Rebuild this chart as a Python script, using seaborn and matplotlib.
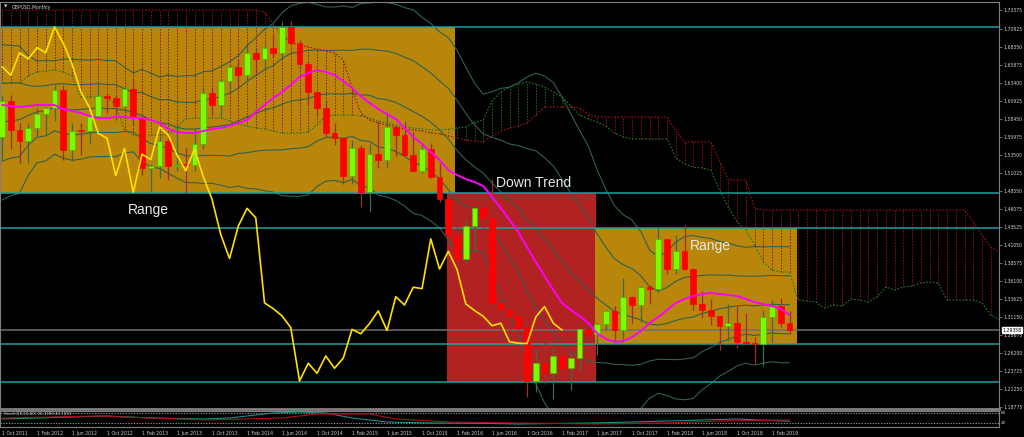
import matplotlib
matplotlib.use("Agg")
import matplotlib.pyplot as plt
from matplotlib import font_manager
import seaborn as sns
import numpy as np

# ---- monthly GBPUSD bars, Oct 2011 .. Apr 2019 ----
opens = [1.5585, 1.6085, 1.5690, 1.5540, 1.5720, 1.5910, 1.5995, 1.6235, 1.5410, 1.5680,
         1.5675, 1.5880, 1.6150, 1.6130, 1.6020, 1.6255, 1.5860, 1.5170, 1.5195, 1.5530,
         1.5190, 1.5210, 1.5205, 1.5500, 1.6190, 1.6030, 1.6360, 1.6560, 1.6440, 1.6750,
         1.6665, 1.6820, 1.6750, 1.7105, 1.6880, 1.6595, 1.6215, 1.5995, 1.5640, 1.5575,
         1.5060, 1.5435, 1.4830, 1.5355, 1.5280, 1.5730, 1.5615, 1.5345, 1.5125, 1.5425,
         1.5045, 1.4735, 1.4250, 1.3920, 1.4365, 1.4610, 1.4480, 1.3310, 1.3230, 1.3130,
         1.2970, 1.2235, 1.2480, 1.2340, 1.2580, 1.2410, 1.2550, 1.2945, 1.2885, 1.3025,
         1.3200, 1.2930, 1.3395, 1.3280, 1.3525, 1.3505, 1.4190, 1.3775, 1.4020, 1.3770,
         1.3295, 1.3205, 1.3125, 1.2995, 1.3030, 1.2775, 1.2755, 1.2750, 1.3115, 1.3260,
         1.3030]
highs = [1.6165, 1.6165, 1.5780, 1.5790, 1.5990, 1.6000, 1.6300, 1.6300, 1.5780, 1.5780,
         1.5900, 1.6310, 1.6200, 1.6170, 1.6310, 1.6380, 1.5875, 1.5225, 1.5600, 1.5605,
         1.5750, 1.5440, 1.5720, 1.6260, 1.6260, 1.6385, 1.6600, 1.6670, 1.6825, 1.6820,
         1.6850, 1.6995, 1.7180, 1.7190, 1.6920, 1.6640, 1.6225, 1.6080, 1.5785, 1.5590,
         1.5550, 1.5485, 1.5495, 1.5815, 1.5930, 1.5735, 1.5815, 1.5660, 1.5505, 1.5505,
         1.5240, 1.4820, 1.4665, 1.4460, 1.4640, 1.4770, 1.5020, 1.3480, 1.3375, 1.3445,
         1.3060, 1.2675, 1.2775, 1.2705, 1.2705, 1.2615, 1.2965, 1.3045, 1.3030, 1.3215,
         1.3265, 1.3655, 1.3400, 1.3545, 1.3550, 1.4345, 1.4195, 1.4245, 1.4375, 1.3785,
         1.3475, 1.3365, 1.3130, 1.3300, 1.3260, 1.3175, 1.2840, 1.3215, 1.3350, 1.3380,
         1.3195]
lows = [1.5270, 1.5420, 1.5235, 1.5235, 1.5600, 1.5600, 1.5810, 1.5270, 1.5260, 1.5350,
        1.5490, 1.5860, 1.5915, 1.5830, 1.6000, 1.5750, 1.5065, 1.4830, 1.5025, 1.5005,
        1.5130, 1.4815, 1.5130, 1.5425, 1.5895, 1.5855, 1.6240, 1.6250, 1.6335, 1.6460,
        1.6540, 1.6690, 1.6690, 1.6860, 1.6530, 1.6050, 1.5875, 1.5590, 1.5485, 1.4950,
        1.4950, 1.4635, 1.4565, 1.5170, 1.5170, 1.5330, 1.5330, 1.5105, 1.5100, 1.5025,
        1.4700, 1.4080, 1.3835, 1.3840, 1.4005, 1.4330, 1.3230, 1.2800, 1.2865, 1.2915,
        1.2010, 1.2080, 1.2200, 1.1985, 1.2345, 1.2110, 1.2365, 1.2770, 1.2590, 1.2935,
        1.2775, 1.2775, 1.3030, 1.3040, 1.3300, 1.3460, 1.3710, 1.3710, 1.3760, 1.3205,
        1.3100, 1.3010, 1.2660, 1.2785, 1.2695, 1.2725, 1.2475, 1.2435, 1.2775, 1.2975,
        1.2880]
closes = [1.6085, 1.5690, 1.5540, 1.5720, 1.5910, 1.5995, 1.6235, 1.5410, 1.5680, 1.5675,
          1.5880, 1.6150, 1.6130, 1.6020, 1.6255, 1.5860, 1.5170, 1.5195, 1.5530, 1.5190,
          1.5210, 1.5205, 1.5500, 1.6190, 1.6030, 1.6360, 1.6560, 1.6440, 1.6750, 1.6665,
          1.6820, 1.6750, 1.7105, 1.6880, 1.6595, 1.6215, 1.5995, 1.5640, 1.5575, 1.5060,
          1.5435, 1.4830, 1.5355, 1.5280, 1.5730, 1.5615, 1.5345, 1.5125, 1.5425, 1.5045,
          1.4735, 1.4250, 1.3920, 1.4365, 1.4610, 1.4480, 1.3310, 1.3230, 1.3130, 1.2970,
          1.2235, 1.2480, 1.2340, 1.2580, 1.2410, 1.2550, 1.2945, 1.2885, 1.3025, 1.3200,
          1.2930, 1.3395, 1.3280, 1.3525, 1.3505, 1.4190, 1.3775, 1.4020, 1.3770, 1.3295,
          1.3205, 1.3125, 1.2995, 1.3030, 1.2775, 1.2755, 1.2750, 1.3115, 1.3260, 1.3030,
          1.2936]

# magenta moving average, one value per bar
ma_line = [1.6031, 1.6017, 1.6004, 1.6017, 1.6031, 1.6031, 1.6031, 1.5976, 1.5949, 1.5921,
           1.5880, 1.5852, 1.5852, 1.5866, 1.5866, 1.5852, 1.5852, 1.5825, 1.5784, 1.5701,
           1.5660, 1.5646, 1.5646, 1.5674, 1.5701, 1.5715, 1.5742, 1.5784, 1.5825, 1.5935,
           1.6031, 1.6127, 1.6210, 1.6306, 1.6416, 1.6471, 1.6512, 1.6485, 1.6444, 1.6361,
           1.6265, 1.6155, 1.6059, 1.5976, 1.5907, 1.5839, 1.5715, 1.5591, 1.5495, 1.5385,
           1.5275, 1.5137, 1.5068, 1.5013, 1.4972, 1.4917, 1.4766, 1.4614, 1.4450, 1.4284,
           1.4078, 1.3872, 1.3679, 1.3487, 1.3308, 1.3212, 1.3129, 1.3033, 1.2895, 1.2813,
           1.2772, 1.2785, 1.2840, 1.2923, 1.3033, 1.3115, 1.3212, 1.3308, 1.3363, 1.3404,
           1.3432, 1.3445, 1.3432, 1.3418, 1.3404, 1.3363, 1.3322, 1.3294, 1.3267, 1.3226,
           1.3143]

# dark-green band lines (upper 2, upper 1, middle, lower 1, lower 2), one value per bar
bb_up2 = [1.6860, 1.6851, 1.6843, 1.6711, 1.6637, 1.6643, 1.6639, 1.6664, 1.6659, 1.6654,
          1.6649, 1.6657, 1.6643, 1.6642, 1.6548, 1.6474, 1.6520, 1.6470, 1.6416, 1.6444,
          1.6424, 1.6434, 1.6434, 1.6489, 1.6501, 1.6561, 1.6625, 1.6709, 1.6848, 1.6954,
          1.7073, 1.7153, 1.7300, 1.7395, 1.7428, 1.7444, 1.7413, 1.7381, 1.7378, 1.7395,
          1.7373, 1.7426, 1.7435, 1.7447, 1.7442, 1.7415, 1.7371, 1.7341, 1.7239, 1.7152,
          1.7038, 1.6959, 1.6785, 1.6553, 1.6332, 1.6179, 1.6214, 1.6260, 1.6275, 1.6337,
          1.6416, 1.6469, 1.6430, 1.6339, 1.6141, 1.5909, 1.5681, 1.5468, 1.5144, 1.4875,
          1.4645, 1.4522, 1.4446, 1.4292, 1.4037, 1.3944, 1.4017, 1.4145, 1.4221, 1.4237,
          1.4211, 1.4195, 1.4154, 1.4132, 1.4094, 1.4074, 1.4085, 1.4080, 1.4084, 1.4082,
          1.4082]
bb_up1 = [1.6326, 1.6334, 1.6336, 1.6300, 1.6287, 1.6298, 1.6318, 1.6323, 1.6312, 1.6312,
          1.6316, 1.6323, 1.6313, 1.6312, 1.6254, 1.6202, 1.6203, 1.6147, 1.6102, 1.6106,
          1.6074, 1.6067, 1.6066, 1.6105, 1.6114, 1.6153, 1.6193, 1.6261, 1.6357, 1.6435,
          1.6518, 1.6573, 1.6671, 1.6740, 1.6765, 1.6782, 1.6787, 1.6782, 1.6782, 1.6787,
          1.6782, 1.6799, 1.6800, 1.6783, 1.6773, 1.6741, 1.6689, 1.6641, 1.6557, 1.6473,
          1.6364, 1.6262, 1.6095, 1.5916, 1.5756, 1.5636, 1.5586, 1.5549, 1.5495, 1.5474,
          1.5433, 1.5401, 1.5306, 1.5193, 1.5011, 1.4818, 1.4644, 1.4481, 1.4259, 1.4078,
          1.3918, 1.3835, 1.3781, 1.3683, 1.3528, 1.3474, 1.3522, 1.3606, 1.3660, 1.3676,
          1.3687, 1.3695, 1.3691, 1.3691, 1.3681, 1.3676, 1.3677, 1.3680, 1.3688, 1.3683,
          1.3683]
bb_mid = [1.5792, 1.5817, 1.5829, 1.5889, 1.5937, 1.5953, 1.5997, 1.5982, 1.5965, 1.5970,
          1.5983, 1.5989, 1.5983, 1.5982, 1.5960, 1.5930, 1.5886, 1.5824, 1.5788, 1.5768,
          1.5724, 1.5700, 1.5698, 1.5721, 1.5727, 1.5745, 1.5761, 1.5813, 1.5866, 1.5916,
          1.5963, 1.5993, 1.6042, 1.6085, 1.6102, 1.6120, 1.6161, 1.6183, 1.6186, 1.6179,
          1.6191, 1.6172, 1.6165, 1.6119, 1.6104, 1.6067, 1.6007, 1.5941, 1.5875, 1.5794,
          1.5690, 1.5565, 1.5405, 1.5279, 1.5180, 1.5093, 1.4958, 1.4838, 1.4715, 1.4611,
          1.4450, 1.4333, 1.4182, 1.4047, 1.3881, 1.3727, 1.3607, 1.3494, 1.3374, 1.3281,
          1.3191, 1.3148, 1.3116, 1.3074, 1.3019, 1.3004, 1.3027, 1.3067, 1.3099, 1.3115,
          1.3163, 1.3195, 1.3228, 1.3250, 1.3268, 1.3278, 1.3269, 1.3280, 1.3292, 1.3284,
          1.3284]
bb_lo1 = [1.5258, 1.5300, 1.5322, 1.5478, 1.5587, 1.5608, 1.5676, 1.5641, 1.5618, 1.5628,
          1.5650, 1.5655, 1.5653, 1.5652, 1.5666, 1.5658, 1.5569, 1.5501, 1.5474, 1.5430,
          1.5374, 1.5333, 1.5330, 1.5337, 1.5340, 1.5337, 1.5329, 1.5365, 1.5375, 1.5397,
          1.5408, 1.5413, 1.5413, 1.5430, 1.5439, 1.5458, 1.5535, 1.5584, 1.5590, 1.5571,
          1.5600, 1.5545, 1.5530, 1.5455, 1.5435, 1.5393, 1.5325, 1.5241, 1.5193, 1.5115,
          1.5016, 1.4868, 1.4715, 1.4642, 1.4604, 1.4550, 1.4330, 1.4127, 1.3935, 1.3748,
          1.3467, 1.3265, 1.3058, 1.2901, 1.2751, 1.2636, 1.2570, 1.2507, 1.2489, 1.2484,
          1.2464, 1.2461, 1.2451, 1.2465, 1.2510, 1.2534, 1.2532, 1.2528, 1.2538, 1.2554,
          1.2639, 1.2695, 1.2765, 1.2809, 1.2855, 1.2880, 1.2861, 1.2880, 1.2896, 1.2885,
          1.2885]
bb_lo2 = [1.4724, 1.4783, 1.4815, 1.5067, 1.5237, 1.5263, 1.5355, 1.5300, 1.5271, 1.5286,
          1.5317, 1.5321, 1.5323, 1.5322, 1.5372, 1.5386, 1.5252, 1.5178, 1.5160, 1.5092,
          1.5024, 1.4966, 1.4962, 1.4953, 1.4953, 1.4929, 1.4897, 1.4917, 1.4884, 1.4878,
          1.4853, 1.4833, 1.4784, 1.4775, 1.4776, 1.4796, 1.4909, 1.4985, 1.4994, 1.4963,
          1.5009, 1.4918, 1.4895, 1.4791, 1.4766, 1.4719, 1.4643, 1.4541, 1.4511, 1.4436,
          1.4342, 1.4171, 1.4025, 1.4005, 1.4028, 1.4007, 1.3702, 1.3416, 1.3155, 1.2885,
          1.2484, 1.2197, 1.1934, 1.1755, 1.1621, 1.1545, 1.1533, 1.1520, 1.1604, 1.1687,
          1.1737, 1.1774, 1.1786, 1.1856, 1.2001, 1.2064, 1.2037, 1.1989, 1.1977, 1.1993,
          1.2115, 1.2195, 1.2302, 1.2368, 1.2442, 1.2482, 1.2453, 1.2480, 1.2500, 1.2486,
          1.2486]

# ichimoku cloud edges (already shifted 26 bars forward), bars 0..116
span_a = [1.6334, 1.6334, 1.6334, 1.6430, 1.6485, 1.6499, 1.6512, 1.6485, 1.6430, 1.6141,
          1.6141, 1.6141, 1.6141, 1.6031, 1.5687, 1.5619, 1.5619, 1.5619, 1.5619, 1.5619,
          1.5729, 1.5839, 1.5852, 1.5852, 1.5852, 1.5852, 1.5811, 1.5770, 1.5742, 1.5715,
          1.5701, 1.5674, 1.5646, 1.5646, 1.5646, 1.5660, 1.5756, 1.5880, 1.5894, 1.5894,
          1.5894, 1.5880, 1.5852, 1.5811, 1.5784, 1.5756, 1.5729, 1.5715, 1.5701, 1.5687,
          1.5687, 1.5701, 1.5715, 1.5729, 1.5797, 1.5825, 1.6086, 1.6210, 1.6279, 1.6320,
          1.6347, 1.6320, 1.6279, 1.6210, 1.6141, 1.6017, 1.5894, 1.5839, 1.5797, 1.5742,
          1.5646, 1.5591, 1.5564, 1.5564, 1.5564, 1.5564, 1.5564, 1.5302, 1.5220, 1.5178,
          1.5165, 1.5137, 1.4862, 1.4628, 1.4422, 1.4312, 1.4106, 1.3872, 1.3762, 1.3734,
          1.3734, 1.3349, 1.3336, 1.3322, 1.3239, 1.3281, 1.3267, 1.3363, 1.3349, 1.3322,
          1.3390, 1.3528, 1.3487, 1.3528, 1.3542, 1.3583, 1.3597, 1.3583, 1.3349, 1.3349,
          1.3349, 1.3349, 1.3308, 1.3143, 1.3074, 1.3047, 1.3019]
span_b = [1.7338, 1.7338, 1.7338, 1.7338, 1.7338, 1.7338, 1.7338, 1.7338, 1.7338, 1.7338,
          1.7338, 1.7338, 1.7338, 1.7338, 1.7338, 1.7338, 1.7338, 1.7338, 1.7338, 1.7338,
          1.7338, 1.7338, 1.7338, 1.7338, 1.7338, 1.7338, 1.7338, 1.7338, 1.7338, 1.7338,
          1.7310, 1.7145, 1.6994, 1.6884, 1.6856, 1.6829, 1.6801, 1.6774, 1.6746, 1.6650,
          1.6265, 1.5921, 1.5825, 1.5784, 1.5756, 1.5729, 1.5701, 1.5687, 1.5674, 1.5646,
          1.5633, 1.5605, 1.5578, 1.5550, 1.5536, 1.5523, 1.5605, 1.5674, 1.5715, 1.5742,
          1.5784, 1.5894, 1.6004, 1.6004, 1.6004, 1.6004, 1.5990, 1.5907, 1.5866, 1.5866,
          1.5866, 1.5866, 1.5866, 1.5866, 1.5866, 1.5866, 1.5866, 1.5674, 1.5523, 1.5523,
          1.5523, 1.5523, 1.5261, 1.5000, 1.5000, 1.5000, 1.4614, 1.4587, 1.4587, 1.4587,
          1.4587, 1.4587, 1.4587, 1.4587, 1.4587, 1.4587, 1.4587, 1.4587, 1.4587, 1.4587,
          1.4587, 1.4587, 1.4587, 1.4587, 1.4587, 1.4587, 1.4587, 1.4587, 1.4587, 1.4587,
          1.4587, 1.4422, 1.4243, 1.4078, 1.4009, 1.3968, 1.3927]

# stochastic sub-window, sampled (bar, value)
stoch_bars = [0, 12, 17, 23, 26, 31, 34, 37, 40, 44, 49, 53, 59, 67, 72, 76, 84, 90]
stoch_main = [44, 62, 50, 44, 50, 80, 86, 80, 50, 26, 20, 20, 14, 20, 26, 32, 44, 30]
signal_bars = [0, 11, 23, 32, 36, 42, 45, 51, 59, 68, 76, 82, 90]
stoch_signal = [50, 62, 38, 50, 74, 74, 44, 26, 20, 14, 20, 32, 38]

# drawn objects
h_levels = [1.7104, 1.4821, 1.4339, 1.2744, 1.2221]
bid_price = 1.29358
# (first bar, last bar, low, high, colour)
boxes = [(-0.3, 51.77, 1.4821, 1.7104, "#B8860B"),
         (50.86, 67.89, 1.2221, 1.4821, "#B22222"),
         (67.77, 90.86, 1.2744, 1.4339, "#B8860B")]
labels = [("Range", 16.7, 1.4587), ("Down Trend", 60.7, 1.4958), ("Range", 80.9, 1.4092)]

price_ticks = ["1.73375", "1.70825", "1.68350", "1.65875", "1.63400", "1.60925", "1.58450",
               "1.55975", "1.53500", "1.51025", "1.48550", "1.46075", "1.43525", "1.41050",
               "1.38575", "1.36100", "1.33625", "1.31150", "1.28675", "1.26200", "1.23725",
               "1.21250", "1.18775"]
date_ticks = ["1 Oct 2011", "1 Feb 2012", "1 Jun 2012", "1 Oct 2012", "1 Feb 2013",
              "1 Jun 2013", "1 Oct 2013", "1 Feb 2014", "1 Jun 2014", "1 Oct 2014",
              "1 Feb 2015", "1 Jun 2015", "1 Oct 2015", "1 Feb 2016", "1 Jun 2016",
              "1 Oct 2016", "1 Feb 2017", "1 Jun 2017", "1 Oct 2017", "1 Feb 2018",
              "1 Jun 2018", "1 Oct 2018", "1 Feb 2019"]

sns.set_theme(style="dark")
plt.rcParams['font.family'] = ['DejaVu Sans']

# small axis text: narrow face if present, else a smaller DejaVu
try:
    font_manager.findfont("Liberation Sans Narrow", fallback_to_default=False)
    SMALL, SMALL_SIZE = "Liberation Sans Narrow", 4.0
except Exception:
    SMALL, SMALL_SIZE = "DejaVu Sans", 3.3
try:
    font_manager.findfont("Liberation Sans", fallback_to_default=False)
    BIG = "Liberation Sans"
except Exception:
    BIG = "DejaVu Sans"

GRID = "#808080"
TXT = "#D0D0D0"
BAND = "#2F6150"

fig = plt.figure(figsize=(10.24, 4.37), dpi=100, facecolor="black")
ax = fig.add_axes([0, 1 - 409 / 437, 999 / 1024, 407 / 437])
sub = fig.add_axes([0, 1 - 427 / 437, 999 / 1024, 16 / 437], sharex=ax)
for a in (ax, sub):
    a.set_facecolor("black")
    a.grid(False)
    for s in a.spines.values():
        s.set_color(GRID)
        s.set_linewidth(0.8)
ax.spines["bottom"].set_linewidth(2)

bars = np.arange(len(closes))
ext = np.arange(len(span_a))

# background rectangles
for x0, x1, lo, hi, col in boxes:
    ax.add_patch(plt.Rectangle((x0, lo), x1 - x0, hi - lo, color=col, zorder=0, lw=0))

# bands
for band in (bb_up2, bb_up1, bb_mid, bb_lo1, bb_lo2):
    sns.lineplot(x=bars, y=band, ax=ax, color=BAND, linewidth=0.8, zorder=1)

# ichimoku cloud hatch
for i in ext:
    a_, b_ = span_a[i], span_b[i]
    col = "#9B1010" if b_ > a_ else "#1E6E1E"
    ax.vlines(i, min(a_, b_), max(a_, b_), colors=col, linestyles=(0, (1.5, 1.5)),
              lw=0.7, zorder=2)
ax.plot(ext, span_a, color="#237A23", ls=(0, (1.5, 1.5)), lw=0.8, zorder=2)
ax.plot(ext, span_b, color="#A01515", ls=(0, (1.5, 1.5)), lw=0.8, zorder=2)

# horizontal levels
for lv in h_levels:
    ax.axhline(lv, color="#1E9EA0", lw=1.1, zorder=2.5)
ax.axhline(bid_price, color="#707070", lw=1.1, zorder=2.5)

# candles
up = np.array(closes) >= np.array(opens)
for i in bars:
    o, h, l, c = opens[i], highs[i], lows[i], closes[i]
    ax.vlines(i, l, h, colors="#3D6B45" if up[i] else "#A52A2A", lw=0.9, zorder=3)
    body = max(abs(c - o), 0.0009)
    ax.bar(i, body, bottom=min(o, c), width=0.68, zorder=3.5,
           color="#7CFC00" if up[i] else "#FF0000",
           edgecolor="#58B000" if up[i] else "#FF0000", linewidth=0.5)

# moving average and chikou span
sns.lineplot(x=bars, y=ma_line, ax=ax, color="#FF00FF", linewidth=1.4, zorder=4)
sns.lineplot(x=bars[:len(closes) - 26], y=closes[26:], ax=ax, color="#FFE000",
             linewidth=1.2, zorder=4)

for txt, x, y in labels:
    ax.text(x, y, txt, color="#E8E8E8", fontsize=10, family=BIG, ha="center",
            va="center", zorder=5)

ax.text(0.004, 1 - 5 / 407, "\u25BC", transform=ax.transAxes, color=TXT, fontsize=3.2,
        va="center")
ax.text(0.012, 1 - 5 / 407, "GBPUSD,Monthly", transform=ax.transAxes, color=TXT,
        fontsize=SMALL_SIZE, family=SMALL, va="center")

ax.set_xlim(-0.23, 113.94)
ax.set_ylim(1.1850, 1.7448)
ax.yaxis.tick_right()
ax.set_yticks([float(t) for t in price_ticks])
ax.set_yticklabels(price_ticks, family=SMALL)
ax.tick_params(axis="y", colors=GRID, labelcolor=TXT, labelsize=SMALL_SIZE, length=2,
               pad=1.5, width=0.6)
ax.tick_params(axis="x", bottom=False, labelbottom=False)
ax.set_xlabel("")
ax.set_ylabel("")
ax.annotate(f"{bid_price:.5f}", xy=(1.0, bid_price), xycoords=("axes fraction", "data"),
            xytext=(2.5, 0), textcoords="offset points", fontsize=SMALL_SIZE, family=SMALL,
            color="black", va="center", ha="left",
            bbox=dict(boxstyle="square,pad=0.15", fc="white", ec="white"))

# stochastic window
sub.axhline(80, color="#C0C0C0", lw=0.5, ls=(0, (2, 2)))
sub.axhline(20, color="#C0C0C0", lw=0.5, ls=(0, (2, 2)))
sns.lineplot(x=stoch_bars, y=stoch_main, ax=sub, color="#1E8C8C", linewidth=0.8)
sns.lineplot(x=signal_bars, y=stoch_signal, ax=sub, color="#B01010", linewidth=0.8)
sub.set_ylim(-4, 92)
sub.yaxis.tick_right()
sub.set_yticks([80, 20])
sub.set_yticklabels(["80", "20"], family=SMALL)
sub.tick_params(axis="y", colors=GRID, labelcolor=TXT, labelsize=SMALL_SIZE - 0.3,
                length=0, pad=1.5)
sub.text(0.004, 0.82, "Stoch(20,10,80) 26.3183 40.1093", transform=sub.transAxes,
         color=TXT, fontsize=SMALL_SIZE - 0.4, family=SMALL, va="center")
sub.set_xticks(np.arange(0, 4 * len(date_ticks), 4))
sub.set_xticklabels(date_ticks, family=SMALL)
sub.tick_params(axis="x", colors=GRID, labelcolor=TXT, labelsize=SMALL_SIZE, length=2,
                pad=1, width=0.6)
for lb in sub.get_xticklabels():
    lb.set_ha("left")
sub.set_xlabel("")
sub.set_ylabel("")

fig.savefig("out.png", dpi=100, facecolor="black")
